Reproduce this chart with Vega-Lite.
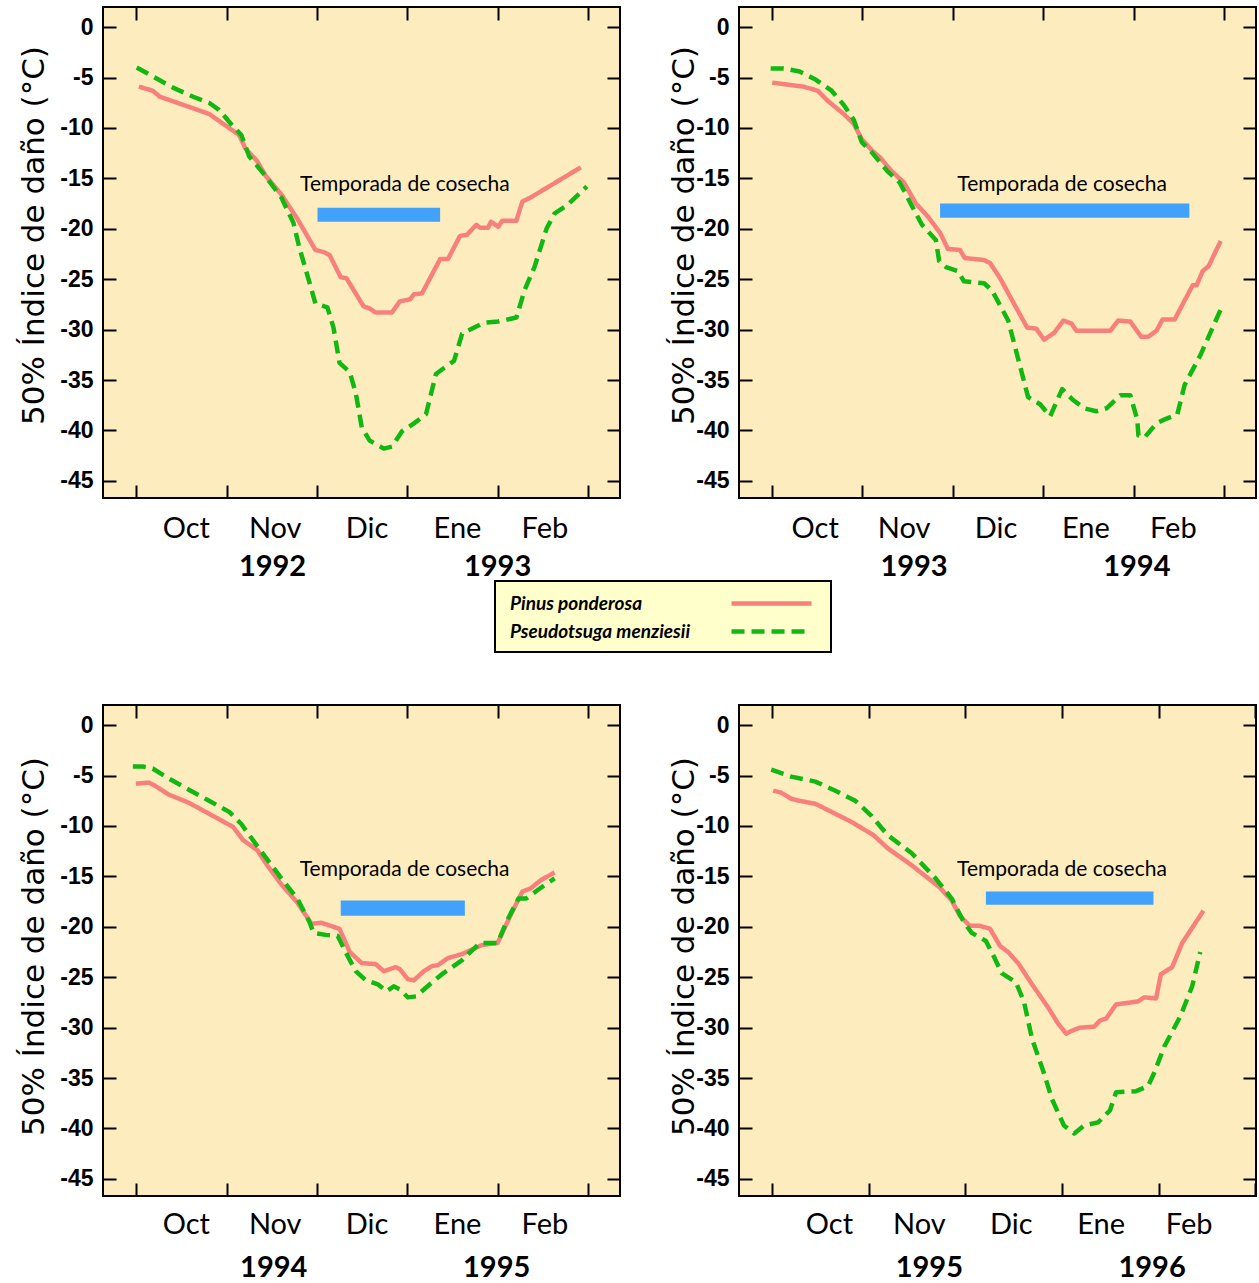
{
"$schema": "https://vega.github.io/schema/vega-lite/v6.json",
"padding": {"left": 17, "top": 5, "right": 0, "bottom": 0},
"background": "#ffffff",
"columns": 2,
"spacing": {"row": 121, "column": 45},
"datasets": {
"lines": [
{"p":1,"s":"Pinus ponderosa","d":0.9,"v":-5.9},{"p":1,"s":"Pinus ponderosa","d":5.5,"v":-6.3},{"p":1,"s":"Pinus ponderosa","d":7.9,"v":-6.9},{"p":1,"s":"Pinus ponderosa","d":24.2,"v":-8.6},{"p":1,"s":"Pinus ponderosa","d":34.2,"v":-10.7},{"p":1,"s":"Pinus ponderosa","d":36.2,"v":-12.0},{"p":1,"s":"Pinus ponderosa","d":40.2,"v":-13.3},{"p":1,"s":"Pinus ponderosa","d":42.9,"v":-14.7},{"p":1,"s":"Pinus ponderosa","d":48.2,"v":-16.6},{"p":1,"s":"Pinus ponderosa","d":53.5,"v":-19.0},{"p":1,"s":"Pinus ponderosa","d":59.5,"v":-22.1},{"p":1,"s":"Pinus ponderosa","d":62.2,"v":-22.3},{"p":1,"s":"Pinus ponderosa","d":64.2,"v":-22.6},{"p":1,"s":"Pinus ponderosa","d":67.9,"v":-24.8},{"p":1,"s":"Pinus ponderosa","d":69.8,"v":-24.9},{"p":1,"s":"Pinus ponderosa","d":75.5,"v":-27.7},{"p":1,"s":"Pinus ponderosa","d":77.5,"v":-27.9},{"p":1,"s":"Pinus ponderosa","d":79.5,"v":-28.3},{"p":1,"s":"Pinus ponderosa","d":84.9,"v":-28.3},{"p":1,"s":"Pinus ponderosa","d":87.5,"v":-27.2},{"p":1,"s":"Pinus ponderosa","d":90.9,"v":-27.0},{"p":1,"s":"Pinus ponderosa","d":92.2,"v":-26.5},{"p":1,"s":"Pinus ponderosa","d":94.9,"v":-26.4},{"p":1,"s":"Pinus ponderosa","d":100.9,"v":-23.0},{"p":1,"s":"Pinus ponderosa","d":103.5,"v":-23.0},{"p":1,"s":"Pinus ponderosa","d":107.5,"v":-20.7},{"p":1,"s":"Pinus ponderosa","d":109.8,"v":-20.6},{"p":1,"s":"Pinus ponderosa","d":112.9,"v":-19.6},{"p":1,"s":"Pinus ponderosa","d":114.2,"v":-19.9},{"p":1,"s":"Pinus ponderosa","d":116.8,"v":-19.9},{"p":1,"s":"Pinus ponderosa","d":117.8,"v":-19.3},{"p":1,"s":"Pinus ponderosa","d":120.2,"v":-19.8},{"p":1,"s":"Pinus ponderosa","d":121.5,"v":-19.2},{"p":1,"s":"Pinus ponderosa","d":126.2,"v":-19.2},{"p":1,"s":"Pinus ponderosa","d":128.2,"v":-17.3},{"p":1,"s":"Pinus ponderosa","d":130.9,"v":-16.9},{"p":1,"s":"Pinus ponderosa","d":147.6,"v":-13.9},
{"p":1,"s":"Pseudotsuga menziesii","d":0.2,"v":-4.0},{"p":1,"s":"Pseudotsuga menziesii","d":6.2,"v":-5.0},{"p":1,"s":"Pseudotsuga menziesii","d":12.2,"v":-6.0},{"p":1,"s":"Pseudotsuga menziesii","d":18.9,"v":-6.9},{"p":1,"s":"Pseudotsuga menziesii","d":24.2,"v":-7.5},{"p":1,"s":"Pseudotsuga menziesii","d":27.5,"v":-8.2},{"p":1,"s":"Pseudotsuga menziesii","d":31.5,"v":-9.6},{"p":1,"s":"Pseudotsuga menziesii","d":34.9,"v":-10.7},{"p":1,"s":"Pseudotsuga menziesii","d":37.5,"v":-12.8},{"p":1,"s":"Pseudotsuga menziesii","d":42.2,"v":-14.5},{"p":1,"s":"Pseudotsuga menziesii","d":48.2,"v":-16.9},{"p":1,"s":"Pseudotsuga menziesii","d":52.2,"v":-19.4},{"p":1,"s":"Pseudotsuga menziesii","d":54.2,"v":-21.9},{"p":1,"s":"Pseudotsuga menziesii","d":57.5,"v":-25.3},{"p":1,"s":"Pseudotsuga menziesii","d":59.5,"v":-27.4},{"p":1,"s":"Pseudotsuga menziesii","d":63.5,"v":-27.8},{"p":1,"s":"Pseudotsuga menziesii","d":65.5,"v":-29.8},{"p":1,"s":"Pseudotsuga menziesii","d":67.5,"v":-33.3},{"p":1,"s":"Pseudotsuga menziesii","d":70.9,"v":-34.2},{"p":1,"s":"Pseudotsuga menziesii","d":72.9,"v":-36.3},{"p":1,"s":"Pseudotsuga menziesii","d":74.9,"v":-39.7},{"p":1,"s":"Pseudotsuga menziesii","d":77.5,"v":-41.0},{"p":1,"s":"Pseudotsuga menziesii","d":82.2,"v":-41.8},{"p":1,"s":"Pseudotsuga menziesii","d":84.9,"v":-41.6},{"p":1,"s":"Pseudotsuga menziesii","d":88.2,"v":-40.1},{"p":1,"s":"Pseudotsuga menziesii","d":92.2,"v":-39.3},{"p":1,"s":"Pseudotsuga menziesii","d":96.2,"v":-38.4},{"p":1,"s":"Pseudotsuga menziesii","d":99.5,"v":-34.4},{"p":1,"s":"Pseudotsuga menziesii","d":102.2,"v":-33.8},{"p":1,"s":"Pseudotsuga menziesii","d":105.5,"v":-33.1},{"p":1,"s":"Pseudotsuga menziesii","d":108.2,"v":-30.4},{"p":1,"s":"Pseudotsuga menziesii","d":112.2,"v":-29.8},{"p":1,"s":"Pseudotsuga menziesii","d":115.5,"v":-29.3},{"p":1,"s":"Pseudotsuga menziesii","d":120.2,"v":-29.2},{"p":1,"s":"Pseudotsuga menziesii","d":126.2,"v":-28.8},{"p":1,"s":"Pseudotsuga menziesii","d":128.9,"v":-26.1},{"p":1,"s":"Pseudotsuga menziesii","d":132.2,"v":-23.8},{"p":1,"s":"Pseudotsuga menziesii","d":136.2,"v":-20.0},{"p":1,"s":"Pseudotsuga menziesii","d":138.8,"v":-18.5},{"p":1,"s":"Pseudotsuga menziesii","d":142.9,"v":-17.7},{"p":1,"s":"Pseudotsuga menziesii","d":149.6,"v":-15.8},
{"p":2,"s":"Pinus ponderosa","d":0.1,"v":-5.5},{"p":2,"s":"Pinus ponderosa","d":10.5,"v":-5.9},{"p":2,"s":"Pinus ponderosa","d":15.2,"v":-6.3},{"p":2,"s":"Pinus ponderosa","d":18.5,"v":-7.3},{"p":2,"s":"Pinus ponderosa","d":23.8,"v":-8.6},{"p":2,"s":"Pinus ponderosa","d":27.2,"v":-9.6},{"p":2,"s":"Pinus ponderosa","d":29.8,"v":-11.1},{"p":2,"s":"Pinus ponderosa","d":33.1,"v":-12.2},{"p":2,"s":"Pinus ponderosa","d":35.8,"v":-12.9},{"p":2,"s":"Pinus ponderosa","d":39.8,"v":-14.3},{"p":2,"s":"Pinus ponderosa","d":43.8,"v":-15.4},{"p":2,"s":"Pinus ponderosa","d":47.8,"v":-17.5},{"p":2,"s":"Pinus ponderosa","d":51.8,"v":-18.8},{"p":2,"s":"Pinus ponderosa","d":55.8,"v":-20.4},{"p":2,"s":"Pinus ponderosa","d":58.4,"v":-22.0},{"p":2,"s":"Pinus ponderosa","d":62.4,"v":-22.1},{"p":2,"s":"Pinus ponderosa","d":64.0,"v":-22.9},{"p":2,"s":"Pinus ponderosa","d":70.4,"v":-23.1},{"p":2,"s":"Pinus ponderosa","d":72.4,"v":-23.4},{"p":2,"s":"Pinus ponderosa","d":75.7,"v":-24.9},{"p":2,"s":"Pinus ponderosa","d":81.0,"v":-27.8},{"p":2,"s":"Pinus ponderosa","d":84.7,"v":-29.8},{"p":2,"s":"Pinus ponderosa","d":87.7,"v":-29.9},{"p":2,"s":"Pinus ponderosa","d":90.3,"v":-31.0},{"p":2,"s":"Pinus ponderosa","d":93.7,"v":-30.3},{"p":2,"s":"Pinus ponderosa","d":96.7,"v":-29.1},{"p":2,"s":"Pinus ponderosa","d":99.4,"v":-29.4},{"p":2,"s":"Pinus ponderosa","d":101.0,"v":-30.1},{"p":2,"s":"Pinus ponderosa","d":112.3,"v":-30.1},{"p":2,"s":"Pinus ponderosa","d":114.9,"v":-29.1},{"p":2,"s":"Pinus ponderosa","d":118.9,"v":-29.2},{"p":2,"s":"Pinus ponderosa","d":122.5,"v":-30.7},{"p":2,"s":"Pinus ponderosa","d":124.9,"v":-30.7},{"p":2,"s":"Pinus ponderosa","d":127.6,"v":-30.1},{"p":2,"s":"Pinus ponderosa","d":129.6,"v":-29.0},{"p":2,"s":"Pinus ponderosa","d":133.6,"v":-29.0},{"p":2,"s":"Pinus ponderosa","d":139.6,"v":-25.6},{"p":2,"s":"Pinus ponderosa","d":140.9,"v":-25.6},{"p":2,"s":"Pinus ponderosa","d":142.9,"v":-24.2},{"p":2,"s":"Pinus ponderosa","d":144.9,"v":-23.7},{"p":2,"s":"Pinus ponderosa","d":148.9,"v":-21.2},
{"p":2,"s":"Pseudotsuga menziesii","d":-0.4,"v":-4.1},{"p":2,"s":"Pseudotsuga menziesii","d":3.9,"v":-4.1},{"p":2,"s":"Pseudotsuga menziesii","d":9.2,"v":-4.4},{"p":2,"s":"Pseudotsuga menziesii","d":14.5,"v":-5.2},{"p":2,"s":"Pseudotsuga menziesii","d":19.8,"v":-6.3},{"p":2,"s":"Pseudotsuga menziesii","d":23.8,"v":-7.7},{"p":2,"s":"Pseudotsuga menziesii","d":27.2,"v":-9.2},{"p":2,"s":"Pseudotsuga menziesii","d":29.8,"v":-11.4},{"p":2,"s":"Pseudotsuga menziesii","d":33.1,"v":-12.4},{"p":2,"s":"Pseudotsuga menziesii","d":38.4,"v":-14.3},{"p":2,"s":"Pseudotsuga menziesii","d":42.4,"v":-15.4},{"p":2,"s":"Pseudotsuga menziesii","d":46.4,"v":-17.7},{"p":2,"s":"Pseudotsuga menziesii","d":49.8,"v":-19.6},{"p":2,"s":"Pseudotsuga menziesii","d":54.4,"v":-21.1},{"p":2,"s":"Pseudotsuga menziesii","d":55.5,"v":-23.2},{"p":2,"s":"Pseudotsuga menziesii","d":57.8,"v":-23.8},{"p":2,"s":"Pseudotsuga menziesii","d":61.7,"v":-24.2},{"p":2,"s":"Pseudotsuga menziesii","d":63.7,"v":-25.2},{"p":2,"s":"Pseudotsuga menziesii","d":70.4,"v":-25.4},{"p":2,"s":"Pseudotsuga menziesii","d":73.0,"v":-26.1},{"p":2,"s":"Pseudotsuga menziesii","d":78.4,"v":-29.1},{"p":2,"s":"Pseudotsuga menziesii","d":81.7,"v":-32.9},{"p":2,"s":"Pseudotsuga menziesii","d":85.0,"v":-36.7},{"p":2,"s":"Pseudotsuga menziesii","d":89.0,"v":-37.4},{"p":2,"s":"Pseudotsuga menziesii","d":92.3,"v":-38.6},{"p":2,"s":"Pseudotsuga menziesii","d":96.3,"v":-35.9},{"p":2,"s":"Pseudotsuga menziesii","d":99.6,"v":-36.9},{"p":2,"s":"Pseudotsuga menziesii","d":103.6,"v":-37.8},{"p":2,"s":"Pseudotsuga menziesii","d":107.6,"v":-38.1},{"p":2,"s":"Pseudotsuga menziesii","d":111.0,"v":-37.8},{"p":2,"s":"Pseudotsuga menziesii","d":115.6,"v":-36.5},{"p":2,"s":"Pseudotsuga menziesii","d":118.9,"v":-36.5},{"p":2,"s":"Pseudotsuga menziesii","d":121.2,"v":-38.9},{"p":2,"s":"Pseudotsuga menziesii","d":121.6,"v":-40.5},{"p":2,"s":"Pseudotsuga menziesii","d":123.6,"v":-40.7},{"p":2,"s":"Pseudotsuga menziesii","d":127.6,"v":-39.3},{"p":2,"s":"Pseudotsuga menziesii","d":130.3,"v":-38.9},{"p":2,"s":"Pseudotsuga menziesii","d":134.5,"v":-38.4},{"p":2,"s":"Pseudotsuga menziesii","d":136.9,"v":-35.5},{"p":2,"s":"Pseudotsuga menziesii","d":142.2,"v":-32.5},{"p":2,"s":"Pseudotsuga menziesii","d":148.9,"v":-28.0},
{"p":3,"s":"Pinus ponderosa","d":-0.1,"v":-5.8},{"p":3,"s":"Pinus ponderosa","d":4.2,"v":-5.7},{"p":3,"s":"Pinus ponderosa","d":6.2,"v":-6.0},{"p":3,"s":"Pinus ponderosa","d":10.9,"v":-6.9},{"p":3,"s":"Pinus ponderosa","d":17.5,"v":-7.7},{"p":3,"s":"Pinus ponderosa","d":25.5,"v":-9.0},{"p":3,"s":"Pinus ponderosa","d":32.2,"v":-10.1},{"p":3,"s":"Pinus ponderosa","d":35.5,"v":-11.4},{"p":3,"s":"Pinus ponderosa","d":40.2,"v":-12.4},{"p":3,"s":"Pinus ponderosa","d":43.5,"v":-13.9},{"p":3,"s":"Pinus ponderosa","d":48.2,"v":-15.8},{"p":3,"s":"Pinus ponderosa","d":53.5,"v":-17.6},{"p":3,"s":"Pinus ponderosa","d":58.2,"v":-19.7},{"p":3,"s":"Pinus ponderosa","d":61.5,"v":-19.6},{"p":3,"s":"Pinus ponderosa","d":67.5,"v":-20.2},{"p":3,"s":"Pinus ponderosa","d":70.9,"v":-22.5},{"p":3,"s":"Pinus ponderosa","d":74.9,"v":-23.6},{"p":3,"s":"Pinus ponderosa","d":79.5,"v":-23.7},{"p":3,"s":"Pinus ponderosa","d":82.2,"v":-24.4},{"p":3,"s":"Pinus ponderosa","d":86.2,"v":-24.0},{"p":3,"s":"Pinus ponderosa","d":87.5,"v":-24.2},{"p":3,"s":"Pinus ponderosa","d":90.2,"v":-25.2},{"p":3,"s":"Pinus ponderosa","d":92.2,"v":-25.3},{"p":3,"s":"Pinus ponderosa","d":95.5,"v":-24.4},{"p":3,"s":"Pinus ponderosa","d":98.2,"v":-23.9},{"p":3,"s":"Pinus ponderosa","d":100.2,"v":-23.8},{"p":3,"s":"Pinus ponderosa","d":103.5,"v":-23.1},{"p":3,"s":"Pinus ponderosa","d":108.2,"v":-22.7},{"p":3,"s":"Pinus ponderosa","d":114.9,"v":-21.8},{"p":3,"s":"Pinus ponderosa","d":120.0,"v":-21.6},{"p":3,"s":"Pinus ponderosa","d":124.2,"v":-18.9},{"p":3,"s":"Pinus ponderosa","d":128.2,"v":-16.5},{"p":3,"s":"Pinus ponderosa","d":130.9,"v":-16.2},{"p":3,"s":"Pinus ponderosa","d":134.2,"v":-15.4},{"p":3,"s":"Pinus ponderosa","d":138.9,"v":-14.6},
{"p":3,"s":"Pseudotsuga menziesii","d":-1.1,"v":-4.1},{"p":3,"s":"Pseudotsuga menziesii","d":2.2,"v":-4.1},{"p":3,"s":"Pseudotsuga menziesii","d":5.5,"v":-4.3},{"p":3,"s":"Pseudotsuga menziesii","d":10.9,"v":-5.3},{"p":3,"s":"Pseudotsuga menziesii","d":17.5,"v":-6.4},{"p":3,"s":"Pseudotsuga menziesii","d":24.2,"v":-7.5},{"p":3,"s":"Pseudotsuga menziesii","d":30.9,"v":-8.6},{"p":3,"s":"Pseudotsuga menziesii","d":34.9,"v":-9.8},{"p":3,"s":"Pseudotsuga menziesii","d":40.2,"v":-12.0},{"p":3,"s":"Pseudotsuga menziesii","d":48.2,"v":-15.2},{"p":3,"s":"Pseudotsuga menziesii","d":53.5,"v":-17.2},{"p":3,"s":"Pseudotsuga menziesii","d":57.5,"v":-19.5},{"p":3,"s":"Pseudotsuga menziesii","d":58.9,"v":-20.6},{"p":3,"s":"Pseudotsuga menziesii","d":62.9,"v":-20.8},{"p":3,"s":"Pseudotsuga menziesii","d":66.9,"v":-20.9},{"p":3,"s":"Pseudotsuga menziesii","d":69.5,"v":-22.5},{"p":3,"s":"Pseudotsuga menziesii","d":72.9,"v":-24.4},{"p":3,"s":"Pseudotsuga menziesii","d":76.2,"v":-25.3},{"p":3,"s":"Pseudotsuga menziesii","d":80.2,"v":-25.7},{"p":3,"s":"Pseudotsuga menziesii","d":83.1,"v":-26.4},{"p":3,"s":"Pseudotsuga menziesii","d":85.5,"v":-25.9},{"p":3,"s":"Pseudotsuga menziesii","d":87.5,"v":-26.2},{"p":3,"s":"Pseudotsuga menziesii","d":90.2,"v":-27.0},{"p":3,"s":"Pseudotsuga menziesii","d":92.9,"v":-26.9},{"p":3,"s":"Pseudotsuga menziesii","d":97.5,"v":-25.7},{"p":3,"s":"Pseudotsuga menziesii","d":101.5,"v":-24.7},{"p":3,"s":"Pseudotsuga menziesii","d":108.2,"v":-23.3},{"p":3,"s":"Pseudotsuga menziesii","d":110.2,"v":-22.7},{"p":3,"s":"Pseudotsuga menziesii","d":114.2,"v":-21.6},{"p":3,"s":"Pseudotsuga menziesii","d":120.0,"v":-21.6},{"p":3,"s":"Pseudotsuga menziesii","d":122.9,"v":-19.5},{"p":3,"s":"Pseudotsuga menziesii","d":126.9,"v":-17.2},{"p":3,"s":"Pseudotsuga menziesii","d":129.5,"v":-17.2},{"p":3,"s":"Pseudotsuga menziesii","d":133.5,"v":-16.3},{"p":3,"s":"Pseudotsuga menziesii","d":138.9,"v":-15.2},
{"p":4,"s":"Pinus ponderosa","d":0.4,"v":-6.5},{"p":4,"s":"Pinus ponderosa","d":2.9,"v":-6.7},{"p":4,"s":"Pinus ponderosa","d":6.0,"v":-7.3},{"p":4,"s":"Pinus ponderosa","d":8.5,"v":-7.5},{"p":4,"s":"Pinus ponderosa","d":13.5,"v":-7.8},{"p":4,"s":"Pinus ponderosa","d":18.5,"v":-8.6},{"p":4,"s":"Pinus ponderosa","d":24.7,"v":-9.6},{"p":4,"s":"Pinus ponderosa","d":31.5,"v":-10.9},{"p":4,"s":"Pinus ponderosa","d":35.9,"v":-12.2},{"p":4,"s":"Pinus ponderosa","d":43.4,"v":-13.9},{"p":4,"s":"Pinus ponderosa","d":52.1,"v":-16.1},{"p":4,"s":"Pinus ponderosa","d":55.8,"v":-17.4},{"p":4,"s":"Pinus ponderosa","d":58.3,"v":-18.9},{"p":4,"s":"Pinus ponderosa","d":61.4,"v":-19.9},{"p":4,"s":"Pinus ponderosa","d":64.5,"v":-19.9},{"p":4,"s":"Pinus ponderosa","d":67.7,"v":-20.2},{"p":4,"s":"Pinus ponderosa","d":70.8,"v":-21.9},{"p":4,"s":"Pinus ponderosa","d":73.3,"v":-22.5},{"p":4,"s":"Pinus ponderosa","d":76.4,"v":-23.6},{"p":4,"s":"Pinus ponderosa","d":80.7,"v":-25.7},{"p":4,"s":"Pinus ponderosa","d":85.7,"v":-28.0},{"p":4,"s":"Pinus ponderosa","d":88.8,"v":-29.6},{"p":4,"s":"Pinus ponderosa","d":91.3,"v":-30.6},{"p":4,"s":"Pinus ponderosa","d":93.1,"v":-30.3},{"p":4,"s":"Pinus ponderosa","d":95.6,"v":-30.0},{"p":4,"s":"Pinus ponderosa","d":100.0,"v":-29.9},{"p":4,"s":"Pinus ponderosa","d":101.8,"v":-29.3},{"p":4,"s":"Pinus ponderosa","d":103.7,"v":-29.1},{"p":4,"s":"Pinus ponderosa","d":106.8,"v":-27.7},{"p":4,"s":"Pinus ponderosa","d":113.6,"v":-27.4},{"p":4,"s":"Pinus ponderosa","d":115.5,"v":-27.0},{"p":4,"s":"Pinus ponderosa","d":119.2,"v":-27.1},{"p":4,"s":"Pinus ponderosa","d":120.7,"v":-24.7},{"p":4,"s":"Pinus ponderosa","d":124.2,"v":-24.0},{"p":4,"s":"Pinus ponderosa","d":127.3,"v":-21.6},{"p":4,"s":"Pinus ponderosa","d":130.4,"v":-20.1},{"p":4,"s":"Pinus ponderosa","d":133.9,"v":-18.4},
{"p":4,"s":"Pseudotsuga menziesii","d":-0.2,"v":-4.4},{"p":4,"s":"Pseudotsuga menziesii","d":6.0,"v":-5.1},{"p":4,"s":"Pseudotsuga menziesii","d":13.5,"v":-5.6},{"p":4,"s":"Pseudotsuga menziesii","d":19.7,"v":-6.5},{"p":4,"s":"Pseudotsuga menziesii","d":25.9,"v":-7.5},{"p":4,"s":"Pseudotsuga menziesii","d":30.9,"v":-9.0},{"p":4,"s":"Pseudotsuga menziesii","d":35.9,"v":-10.9},{"p":4,"s":"Pseudotsuga menziesii","d":43.4,"v":-12.7},{"p":4,"s":"Pseudotsuga menziesii","d":50.8,"v":-15.2},{"p":4,"s":"Pseudotsuga menziesii","d":55.8,"v":-17.2},{"p":4,"s":"Pseudotsuga menziesii","d":59.5,"v":-19.5},{"p":4,"s":"Pseudotsuga menziesii","d":62.0,"v":-20.6},{"p":4,"s":"Pseudotsuga menziesii","d":66.4,"v":-21.4},{"p":4,"s":"Pseudotsuga menziesii","d":68.8,"v":-22.9},{"p":4,"s":"Pseudotsuga menziesii","d":71.3,"v":-24.6},{"p":4,"s":"Pseudotsuga menziesii","d":75.7,"v":-25.5},{"p":4,"s":"Pseudotsuga menziesii","d":78.2,"v":-27.4},{"p":4,"s":"Pseudotsuga menziesii","d":80.7,"v":-31.1},{"p":4,"s":"Pseudotsuga menziesii","d":84.4,"v":-34.5},{"p":4,"s":"Pseudotsuga menziesii","d":86.9,"v":-37.1},{"p":4,"s":"Pseudotsuga menziesii","d":90.6,"v":-39.7},{"p":4,"s":"Pseudotsuga menziesii","d":93.8,"v":-40.5},{"p":4,"s":"Pseudotsuga menziesii","d":96.9,"v":-39.7},{"p":4,"s":"Pseudotsuga menziesii","d":101.2,"v":-39.4},{"p":4,"s":"Pseudotsuga menziesii","d":104.9,"v":-38.2},{"p":4,"s":"Pseudotsuga menziesii","d":106.8,"v":-36.4},{"p":4,"s":"Pseudotsuga menziesii","d":113.0,"v":-36.3},{"p":4,"s":"Pseudotsuga menziesii","d":116.7,"v":-35.8},{"p":4,"s":"Pseudotsuga menziesii","d":118.6,"v":-34.5},{"p":4,"s":"Pseudotsuga menziesii","d":121.7,"v":-31.9},{"p":4,"s":"Pseudotsuga menziesii","d":126.7,"v":-28.9},{"p":4,"s":"Pseudotsuga menziesii","d":130.4,"v":-25.9},{"p":4,"s":"Pseudotsuga menziesii","d":132.9,"v":-22.5}
],
"bars": [
{"p":1,"d1":60.2,"d2":100.9,"y1":-17.9,"y2":-19.3},
{"p":2,"d1":55.8,"d2":138.5,"y1":-17.5,"y2":-18.9},
{"p":3,"d1":67.9,"d2":109.1,"y1":-17.4,"y2":-18.9},
{"p":4,"d1":66.4,"d2":118.4,"y1":-16.5,"y2":-17.8}
],
"txt": [
{"p":1,"d":89.2,"v":-15.7,"label":"Temporada de cosecha"},
{"p":2,"d":96.3,"v":-15.7,"label":"Temporada de cosecha"},
{"p":3,"d":89.1,"v":-14.4,"label":"Temporada de cosecha"},
{"p":4,"d":90.0,"v":-14.4,"label":"Temporada de cosecha"}
]
},
"concat": [
{
"width": 517, "height": 491,
"resolve": {"axis": {"x": "independent", "y": "independent"}},
"layer": [
{"data": {"name": "bars"}, "transform": [{"filter": "datum.p == 1"}],
 "mark": {"type": "rect", "color": "#42A1FA"},
 "encoding": {
  "x": {"field": "d1", "type": "quantitative", "scale": {"domain": [-11, 160.6], "nice": false, "zero": false}, "axis": {"orient": "top", "values": [0,30,60,90,120,150], "labels": false, "title": null}},
  "x2": {"field": "d2"},
  "y": {"field": "y1", "type": "quantitative", "scale": {"domain": [-46.7, 2], "nice": false, "zero": false}, "axis": {"orient": "right", "values": [0,-5,-10,-15,-20,-25,-30,-35,-40,-45], "labels": false, "title": null}},
  "y2": {"field": "y2"}}},
{"data": {"name": "txt"}, "transform": [{"filter": "datum.p == 1"}],
 "mark": {"type": "text", "font": "Lato", "fontSize": 21, "color": "#000", "baseline": "middle", "align": "center"},
 "encoding": {
  "x": {"field": "d", "type": "quantitative", "axis": {"orient": "bottom", "values": [45.1, 119.8], "labelExpr": "datum.value < 80 ? '1992' : '1993'", "ticks": false, "tickSize": 0, "labelPadding": 77, "labelBaseline": "alphabetic", "labelFont": "Lato", "labelFontWeight": "bold", "labelFontSize": 29, "title": null}},
  "y": {"field": "v", "type": "quantitative", "axis": null},
  "text": {"field": "label"}}},
{"data": {"name": "lines"}, "transform": [{"filter": "datum.p == 1"}],
 "mark": {"type": "line", "strokeWidth": 4.5, "strokeJoin": "round"},
 "encoding": {
  "x": {"field": "d", "type": "quantitative", "axis": {"orient": "bottom", "values": [0,16.5,30,46,60,76.5,90,106.5,120,135.5,150], "labelExpr": "datum.value % 30 == 0 ? '' : ['Oct','Nov','Dic','Ene','Feb'][floor(datum.value / 30)]", "tickOpacity": {"condition": {"test": "datum.value % 30 != 0", "value": 0}, "value": 1}, "labelPadding": 52, "labelBaseline": "alphabetic", "labelFont": "Lato", "labelFontSize": 29, "title": null}},
  "y": {"field": "v", "type": "quantitative", "axis": {"orient": "left", "values": [0,-5,-10,-15,-20,-25,-30,-35,-40,-45], "labelExpr": "datum.value + ''", "labelFont": "Liberation Sans", "labelFontWeight": "bold", "labelFontSize": 23, "labelPadding": 23, "title": "50% Índice de daño (°C)", "titleFont": "DejaVu Sans", "titleFontSize": 31, "titleFontWeight": "normal", "titlePadding": 9, "titleY": 228}},
  "color": {"field": "s", "type": "nominal", "scale": {"domain": ["Pinus ponderosa", "Pseudotsuga menziesii"], "range": ["#F7807C", "#12B812"]},
   "legend": {"orient": "none", "legendX": 392, "legendY": 574, "title": null, "fillColor": "#FFFFCC", "strokeColor": "#000000", "padding": 10, "symbolType": "M 0 0 L 8 0", "symbolSize": 400, "symbolStrokeWidth": 4.5, "symbolOffset": 214, "labelOffset": -234, "labelFont": "Lato", "labelFontStyle": "italic", "labelFontWeight": "bold", "labelFontSize": 19, "labelColor": "#000", "labelLimit": 300, "rowPadding": 5, "encode": {"legend": {"update": {"strokeWidth": {"value": 2}}}}}},
  "strokeDash": {"field": "s", "type": "nominal", "scale": {"domain": ["Pinus ponderosa", "Pseudotsuga menziesii"], "range": [[1,0],[13,7]]},
   "legend": {"orient": "none", "legendX": 392, "legendY": 574, "title": null, "fillColor": "#FFFFCC", "strokeColor": "#000000", "padding": 10, "symbolType": "M 0 0 L 8 0", "symbolSize": 400, "symbolStrokeWidth": 4.5, "symbolOffset": 214, "labelOffset": -234, "labelFont": "Lato", "labelFontStyle": "italic", "labelFontWeight": "bold", "labelFontSize": 19, "labelColor": "#000", "labelLimit": 300, "rowPadding": 5, "encode": {"legend": {"update": {"strokeWidth": {"value": 2}}}}}}}}
]
},
{
"width": 517, "height": 491,
"resolve": {"axis": {"x": "independent", "y": "independent"}},
"layer": [
{"data": {"name": "bars"}, "transform": [{"filter": "datum.p == 2"}],
 "mark": {"type": "rect", "color": "#42A1FA"},
 "encoding": {
  "x": {"field": "d1", "type": "quantitative", "scale": {"domain": [-10.9, 160.6], "nice": false, "zero": false}, "axis": {"orient": "top", "values": [0,30,60,90,120,150], "labels": false, "title": null}},
  "x2": {"field": "d2"},
  "y": {"field": "y1", "type": "quantitative", "scale": {"domain": [-46.7, 2], "nice": false, "zero": false}, "axis": {"orient": "right", "values": [0,-5,-10,-15,-20,-25,-30,-35,-40,-45], "labels": false, "title": null}},
  "y2": {"field": "y2"}}},
{"data": {"name": "txt"}, "transform": [{"filter": "datum.p == 2"}],
 "mark": {"type": "text", "font": "Lato", "fontSize": 21, "color": "#000", "baseline": "middle", "align": "center"},
 "encoding": {
  "x": {"field": "d", "type": "quantitative", "axis": {"orient": "bottom", "values": [47, 120.9], "labelExpr": "datum.value < 80 ? '1993' : '1994'", "ticks": false, "tickSize": 0, "labelPadding": 77, "labelBaseline": "alphabetic", "labelFont": "Lato", "labelFontWeight": "bold", "labelFontSize": 29, "title": null}},
  "y": {"field": "v", "type": "quantitative", "axis": null},
  "text": {"field": "label"}}},
{"data": {"name": "lines"}, "transform": [{"filter": "datum.p == 2"}],
 "mark": {"type": "line", "strokeWidth": 4.5, "strokeJoin": "round"},
 "encoding": {
  "x": {"field": "d", "type": "quantitative", "axis": {"orient": "bottom", "values": [0,14.2,30,43.7,60,74.2,90,104,120,133,150], "labelExpr": "datum.value % 30 == 0 ? '' : ['Oct','Nov','Dic','Ene','Feb'][floor(datum.value / 30)]", "tickOpacity": {"condition": {"test": "datum.value % 30 != 0", "value": 0}, "value": 1}, "labelPadding": 52, "labelBaseline": "alphabetic", "labelFont": "Lato", "labelFontSize": 29, "title": null}},
  "y": {"field": "v", "type": "quantitative", "axis": {"orient": "left", "values": [0,-5,-10,-15,-20,-25,-30,-35,-40,-45], "labelExpr": "datum.value + ''", "labelFont": "Liberation Sans", "labelFontWeight": "bold", "labelFontSize": 23, "labelPadding": 23, "title": "50% Índice de daño (°C)", "titleFont": "DejaVu Sans", "titleFontSize": 31, "titleFontWeight": "normal", "titlePadding": -5, "titleY": 228}},
  "color": {"field": "s", "type": "nominal"},
  "strokeDash": {"field": "s", "type": "nominal"}}}
]
},
{
"width": 517, "height": 491,
"resolve": {"axis": {"x": "independent", "y": "independent"}},
"layer": [
{"data": {"name": "bars"}, "transform": [{"filter": "datum.p == 3"}],
 "mark": {"type": "rect", "color": "#42A1FA"},
 "encoding": {
  "x": {"field": "d1", "type": "quantitative", "scale": {"domain": [-11, 160.6], "nice": false, "zero": false}, "axis": {"orient": "top", "values": [0,30,60,90,120,150], "labels": false, "title": null}},
  "x2": {"field": "d2"},
  "y": {"field": "y1", "type": "quantitative", "scale": {"domain": [-46.7, 2], "nice": false, "zero": false}, "axis": {"orient": "right", "values": [0,-5,-10,-15,-20,-25,-30,-35,-40,-45], "labels": false, "title": null}},
  "y2": {"field": "y2"}}},
{"data": {"name": "txt"}, "transform": [{"filter": "datum.p == 3"}],
 "mark": {"type": "text", "font": "Lato", "fontSize": 21, "color": "#000", "baseline": "middle", "align": "center"},
 "encoding": {
  "x": {"field": "d", "type": "quantitative", "axis": {"orient": "bottom", "values": [45.5, 119.5], "labelExpr": "datum.value < 80 ? '1994' : '1995'", "ticks": false, "tickSize": 0, "labelPadding": 80, "labelBaseline": "alphabetic", "labelFont": "Lato", "labelFontWeight": "bold", "labelFontSize": 29, "title": null}},
  "y": {"field": "v", "type": "quantitative", "axis": null},
  "text": {"field": "label"}}},
{"data": {"name": "lines"}, "transform": [{"filter": "datum.p == 3"}],
 "mark": {"type": "line", "strokeWidth": 4.5, "strokeJoin": "round"},
 "encoding": {
  "x": {"field": "d", "type": "quantitative", "axis": {"orient": "bottom", "values": [0,16.5,30,46,60,76.5,90,106.5,120,135.5,150], "labelExpr": "datum.value % 30 == 0 ? '' : ['Oct','Nov','Dic','Ene','Feb'][floor(datum.value / 30)]", "tickOpacity": {"condition": {"test": "datum.value % 30 != 0", "value": 0}, "value": 1}, "labelPadding": 50, "labelBaseline": "alphabetic", "labelFont": "Lato", "labelFontSize": 29, "title": null}},
  "y": {"field": "v", "type": "quantitative", "axis": {"orient": "left", "values": [0,-5,-10,-15,-20,-25,-30,-35,-40,-45], "labelExpr": "datum.value + ''", "labelFont": "Liberation Sans", "labelFontWeight": "bold", "labelFontSize": 23, "labelPadding": 23, "title": "50% Índice de daño (°C)", "titleFont": "DejaVu Sans", "titleFontSize": 31, "titleFontWeight": "normal", "titlePadding": 9, "titleY": 241}},
  "color": {"field": "s", "type": "nominal"},
  "strokeDash": {"field": "s", "type": "nominal"}}}
]
},
{
"width": 517, "height": 491,
"resolve": {"axis": {"x": "independent", "y": "independent"}},
"layer": [
{"data": {"name": "bars"}, "transform": [{"filter": "datum.p == 4"}],
 "mark": {"type": "rect", "color": "#42A1FA"},
 "encoding": {
  "x": {"field": "d1", "type": "quantitative", "scale": {"domain": [-10.2, 150.2], "nice": false, "zero": false}, "axis": {"orient": "top", "values": [0,30,60,90,120,150], "labels": false, "title": null}},
  "x2": {"field": "d2"},
  "y": {"field": "y1", "type": "quantitative", "scale": {"domain": [-46.7, 2], "nice": false, "zero": false}, "axis": {"orient": "right", "values": [0,-5,-10,-15,-20,-25,-30,-35,-40,-45], "labels": false, "title": null}},
  "y2": {"field": "y2"}}},
{"data": {"name": "txt"}, "transform": [{"filter": "datum.p == 4"}],
 "mark": {"type": "text", "font": "Lato", "fontSize": 21, "color": "#000", "baseline": "middle", "align": "center"},
 "encoding": {
  "x": {"field": "d", "type": "quantitative", "axis": {"orient": "bottom", "values": [48.7, 117.8], "labelExpr": "datum.value < 80 ? '1995' : '1996'", "ticks": false, "tickSize": 0, "labelPadding": 80, "labelBaseline": "alphabetic", "labelFont": "Lato", "labelFontWeight": "bold", "labelFontSize": 29, "title": null}},
  "y": {"field": "v", "type": "quantitative", "axis": null},
  "text": {"field": "label"}}},
{"data": {"name": "lines"}, "transform": [{"filter": "datum.p == 4"}],
 "mark": {"type": "line", "strokeWidth": 4.5, "strokeJoin": "round"},
 "encoding": {
  "x": {"field": "d", "type": "quantitative", "axis": {"orient": "bottom", "values": [0,17.7,30,45.6,60,74.1,90,102,120,129.3,150], "labelExpr": "datum.value % 30 == 0 ? '' : ['Oct','Nov','Dic','Ene','Feb'][floor(datum.value / 30)]", "tickOpacity": {"condition": {"test": "datum.value % 30 != 0", "value": 0}, "value": 1}, "labelPadding": 50, "labelBaseline": "alphabetic", "labelFont": "Lato", "labelFontSize": 29, "title": null}},
  "y": {"field": "v", "type": "quantitative", "axis": {"orient": "left", "values": [0,-5,-10,-15,-20,-25,-30,-35,-40,-45], "labelExpr": "datum.value + ''", "labelFont": "Liberation Sans", "labelFontWeight": "bold", "labelFontSize": 23, "labelPadding": 23, "title": "50% Índice de daño (°C)", "titleFont": "DejaVu Sans", "titleFontSize": 31, "titleFontWeight": "normal", "titlePadding": -5, "titleY": 241}},
  "color": {"field": "s", "type": "nominal"},
  "strokeDash": {"field": "s", "type": "nominal"}}}
]
}
],
"config": {
 "view": {"fill": "#FDEDBE", "stroke": "#000000", "strokeWidth": 2},
 "axis": {"grid": false, "domain": false, "tickColor": "#000000", "tickWidth": 2, "tickSize": -13, "labelColor": "#000000", "titleColor": "#000000", "labelOverlap": false, "labelBound": false, "labelFlush": false}
}
}
